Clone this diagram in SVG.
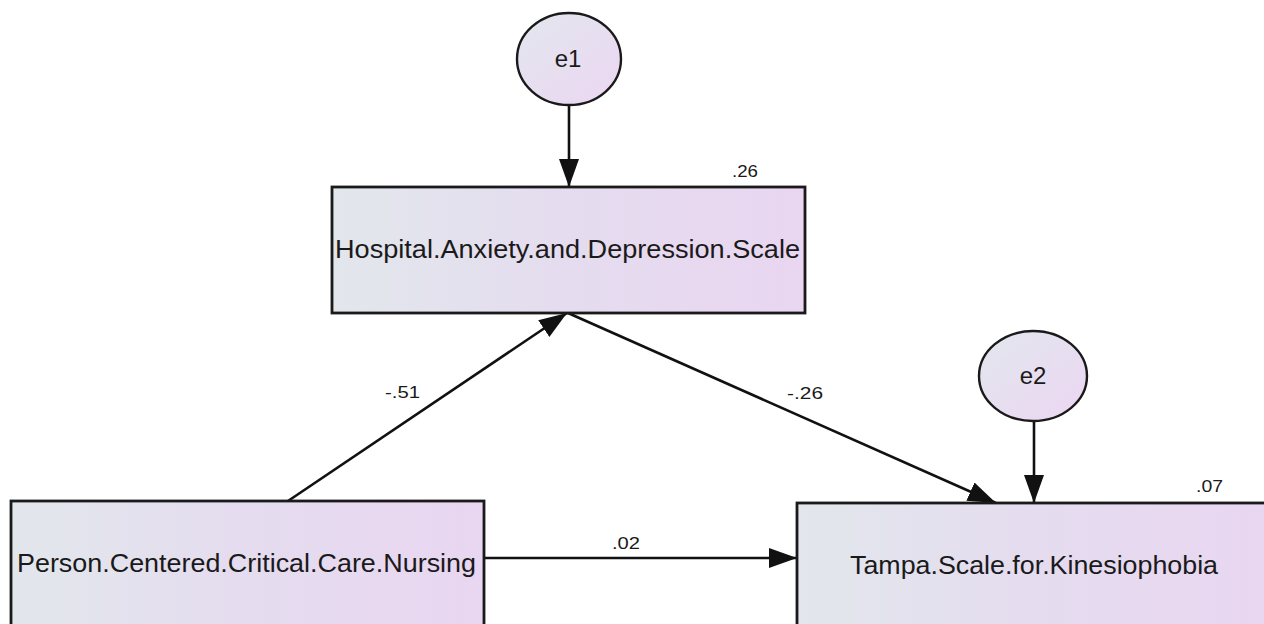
<svg xmlns="http://www.w3.org/2000/svg" width="1264" height="624" viewBox="0 0 1264 624">
<style>
.box{stroke:#1a1a1a;stroke-width:2.8;fill:url(#gBox)}
.err{stroke:#1a1a1a;stroke-width:2.4;fill:url(#gErr)}
.lbl{font-family:"Liberation Sans",Arial,sans-serif;font-size:25px;fill:#1a1a1a}
.ev{font-family:"Liberation Sans",Arial,sans-serif;font-size:24px;fill:#1a1a1a}
.num{font-family:"Liberation Sans",Arial,sans-serif;font-size:17px;fill:#1a1a1a}
.edge{stroke:#111;stroke-width:2.6;fill:none;marker-end:url(#arr)}
</style>
<defs>
<linearGradient id="gBox" x1="0" y1="0" x2="1" y2="0">
<stop offset="0" stop-color="#e2e7ec"/>
<stop offset="0.5" stop-color="#e5dcef"/>
<stop offset="1" stop-color="#e9d6f1"/>
</linearGradient>
<linearGradient id="gErr" x1="0" y1="0" x2="1" y2="1">
<stop offset="0" stop-color="#e2e7ee"/>
<stop offset="1" stop-color="#ecd6f2"/>
</linearGradient>
<marker id="arr" markerUnits="userSpaceOnUse" markerWidth="30" markerHeight="22" refX="28" refY="10" orient="auto">
<path d="M0,0 L28,10 L0,20 Z" fill="#111"/>
</marker>
</defs>
<g id="connectors">
<line class="edge" x1="569" y1="106" x2="569" y2="187"/>
<line class="edge" x1="1034" y1="422" x2="1034" y2="503"/>
<line class="edge" x1="288" y1="501" x2="567" y2="313"/>
<line class="edge" x1="568" y1="313" x2="996" y2="503"/>
<line class="edge" x1="484" y1="558" x2="797" y2="558"/>
<text class="num" x="385" y="398" textLength="35" lengthAdjust="spacingAndGlyphs">-.51</text>
<text class="num" x="787" y="399" textLength="36" lengthAdjust="spacingAndGlyphs">-.26</text>
<text class="num" x="612" y="549" textLength="28" lengthAdjust="spacingAndGlyphs">.02</text>
</g>
<g id="e1">
<ellipse class="err" cx="569" cy="59" rx="52" ry="46"/>
<text class="ev" x="568" y="67" text-anchor="middle">e1</text>
</g>
<g id="e2">
<ellipse class="err" cx="1033" cy="376" rx="54" ry="45"/>
<text class="ev" x="1033" y="384" text-anchor="middle">e2</text>
</g>
<g id="hads">
<rect class="box" x="332" y="187" width="473" height="126"/>
<text class="lbl" x="335" y="258" textLength="465" lengthAdjust="spacingAndGlyphs">Hospital.Anxiety.and.Depression.Scale</text>
<text class="num" x="732" y="177" textLength="26" lengthAdjust="spacingAndGlyphs">.26</text>
</g>
<g id="pccn">
<rect class="box" x="11" y="501" width="473" height="126"/>
<text class="lbl" x="17" y="572" textLength="459" lengthAdjust="spacingAndGlyphs">Person.Centered.Critical.Care.Nursing</text>
</g>
<g id="tsk">
<rect class="box" x="797" y="503" width="473" height="126"/>
<text class="lbl" x="850" y="574" textLength="368" lengthAdjust="spacingAndGlyphs">Tampa.Scale.for.Kinesiophobia</text>
<text class="num" x="1196" y="492" textLength="27" lengthAdjust="spacingAndGlyphs">.07</text>
</g>
</svg>
